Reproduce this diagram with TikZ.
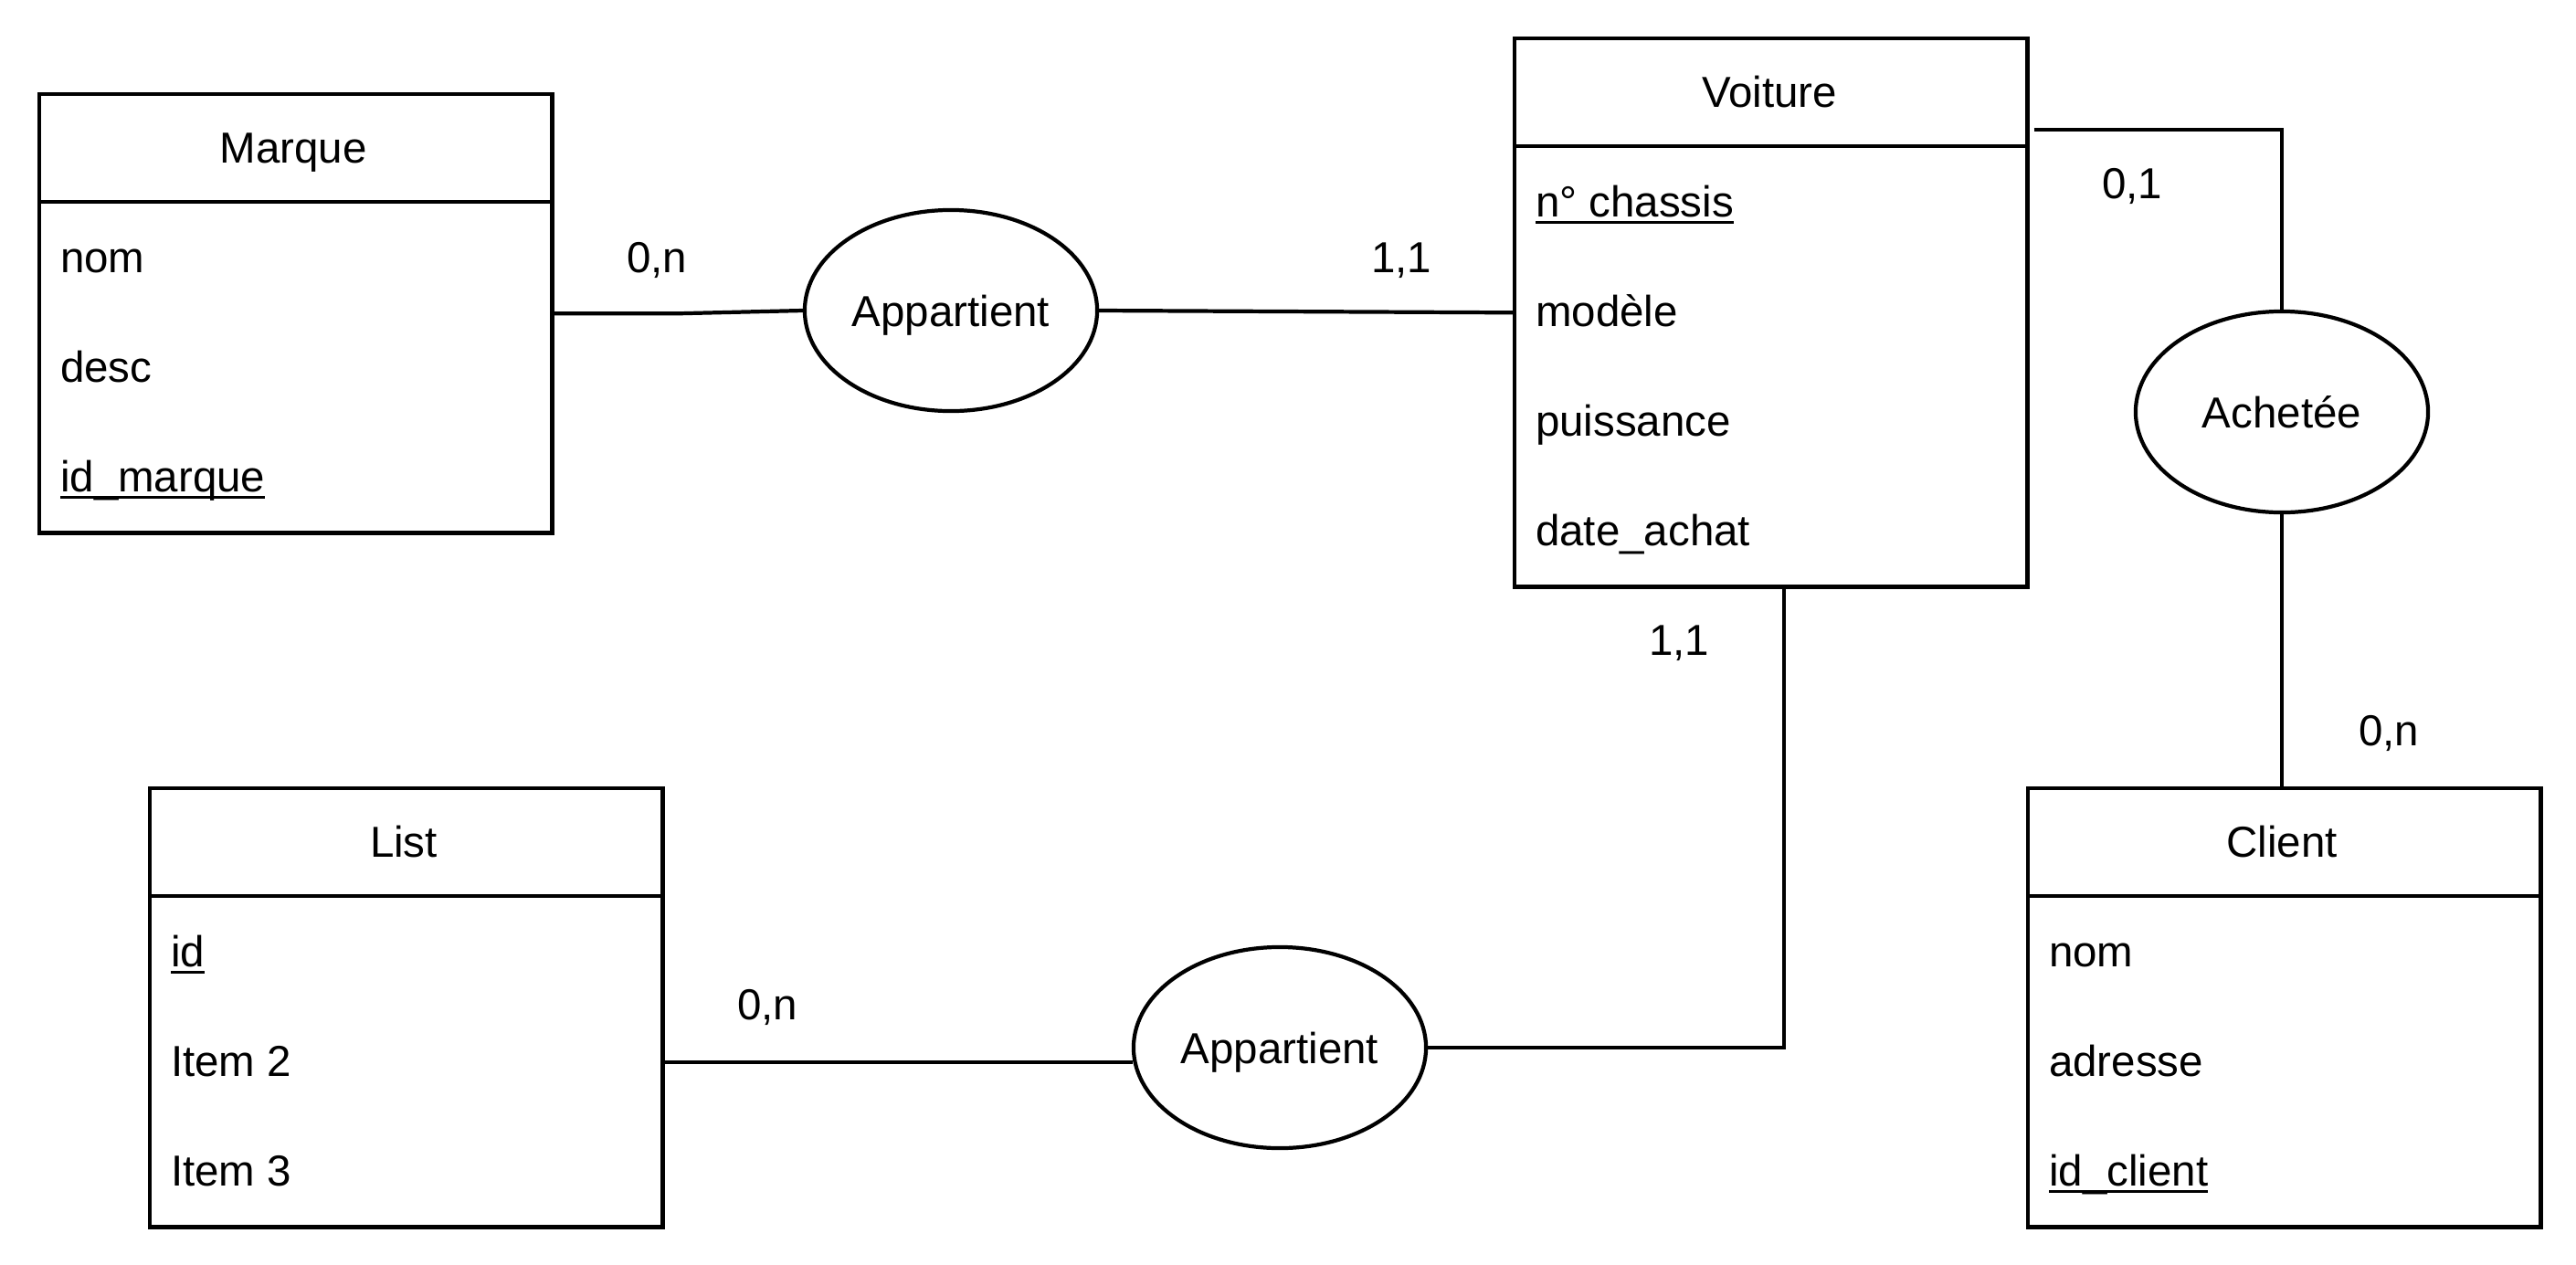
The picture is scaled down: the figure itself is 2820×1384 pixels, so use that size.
\documentclass[tikz,border=0pt]{standalone}
\usepackage{fontspec}
\setmainfont{Liberation Sans}
\usetikzlibrary{shapes.geometric}
\newcommand\keyattr[1]{\setbox0\hbox{#1}\rlap{\rule[-0.17em]{\wd0}{0.07em}}\box0}
\begin{document}
\begin{tikzpicture}[x=0.01cm,y=-0.01cm,line width=1.2pt,
  every node/.style={font=\fontsize{13.5}{16}\selectfont},
  entity/.style={draw,rectangle,minimum width=5.61cm,inner sep=0,anchor=north west},
  rel/.style={draw,ellipse,minimum width=3.2cm,minimum height=2.2cm,inner sep=0,text depth=0pt},
  rowtext/.style={anchor=base west,inner sep=0},
  ctext/.style={anchor=base,inner sep=0}]
\useasboundingbox (0,0) rectangle (2820,1384);
% Entities
\node[entity,minimum height=4.8cm] (marque) at (41,101) {};
\node[entity,minimum height=6.0cm] (voiture) at (1656,40) {};
\node[entity,minimum height=4.8cm] (list) at (162,861) {};
\node[entity,minimum height=4.8cm] (client) at (2218,861) {};
\draw ([yshift=-1.2cm]marque.north west) -- ([yshift=-1.2cm]marque.north east);
\draw ([yshift=-1.2cm]voiture.north west) -- ([yshift=-1.2cm]voiture.north east);
\draw ([yshift=-1.2cm]list.north west) -- ([yshift=-1.2cm]list.north east);
\draw ([yshift=-1.2cm]client.north west) -- ([yshift=-1.2cm]client.north east);
% Marque
\node[ctext] (marqueT) at (321,178) {Marque};
\node[rowtext] (mnom) at (64,298) {nom};
\node[rowtext] (mdesc) at (64,418) {desc};
\node[rowtext] (mid) at (64,538) {\keyattr{id\_marque}};
% Voiture
\node[ctext] (voitureT) at (1937,117) {Voiture};
\node[rowtext] (vch) at (1679,237) {\keyattr{n° chassis}};
\node[rowtext] (vmod) at (1679,357) {modèle};
\node[rowtext] (vpui) at (1679,477) {puissance};
\node[rowtext] (vdate) at (1679,597) {date\_achat};
% List
\node[ctext] (listT) at (442,938) {List};
\node[rowtext] (lid) at (185,1058) {\keyattr{id}};
\node[rowtext] (li2) at (185,1178) {Item 2};
\node[rowtext] (li3) at (185,1298) {Item 3};
% Client
\node[ctext] (clientT) at (2498,938) {Client};
\node[rowtext] (cnom) at (2241,1058) {nom};
\node[rowtext] (cadr) at (2241,1178) {adresse};
\node[rowtext] (cid) at (2241,1298) {\keyattr{id\_client}};
% Relations
\node[rel] (app1) at (1041,340) {Appartient};
\node[rel] (app2) at (1401,1147) {Appartient};
\node[rel] (achetee) at (2498,451) {Achetée};
% Connectors
\draw (marque.east) -- ++(1.36cm,0) -- (app1.west);
\draw (app1.east) -- (voiture.west);
\draw ([xshift=0.05cm,yshift=-1.02cm]voiture.north east) -| (achetee.north);
\draw (achetee.south) -- (achetee.south |- client.north);
\draw ([xshift=0.14cm]voiture.south) |- (app2.east);
\draw ([yshift=-0.6cm]list.east) -- ([yshift=-0.6cm]list.east -| app2.185);
% Cardinalities
\node[ctext] (c1) at (719,298) {0,n};
\node[ctext] (c2) at (1534,298) {1,1};
\node[ctext] (c3) at (2334,217) {0,1};
\node[ctext] (c4) at (2615,816) {0,n};
\node[ctext] (c5) at (1838,717) {1,1};
\node[ctext] (c6) at (840,1116) {0,n};
\end{tikzpicture}
\end{document}
